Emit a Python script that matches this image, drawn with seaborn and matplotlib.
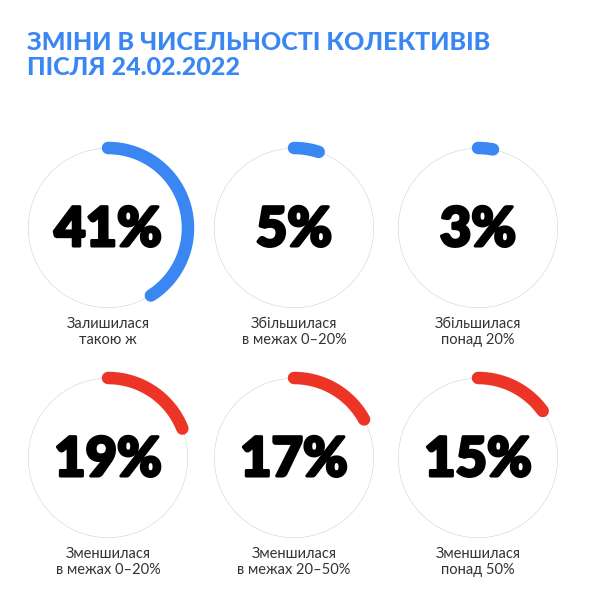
import numpy as np
import seaborn as sns
import matplotlib.pyplot as plt
import matplotlib.patheffects as pe

# ---- data ----
values = [41, 5, 3, 19, 17, 15]
labels = ["Залишилася\nтакою ж",
          "Збільшилася\nв межах 0–20%",
          "Збільшилася\nпонад 20%",
          "Зменшилася\nв межах 0–20%",
          "Зменшилася\nв межах 20–50%",
          "Зменшилася\nпонад 50%"]
groups = ["up", "up", "up", "down", "down", "down"]
title = "ЗМІНИ В ЧИСЕЛЬНОСТІ КОЛЕКТИВІВ\nПІСЛЯ 24.02.2022"

sns.set_theme(style="white")
plt.rcParams['font.family'] = ['Lato', 'DejaVu Sans']

palette = {"up": "#3a86f2", "down": "#ec3527"}

W, H = 600, 596
fig = plt.figure(figsize=(W / 100, H / 100), dpi=100)
fig.patch.set_facecolor("white")

# layout of the 3x2 grid (pixels)
col_x = [108, 294, 478]
row_y = [228, 458]
R = 80

fig.text(27 / W, 1 - 31 / H, title, ha="left", va="top", fontsize=18,
         fontweight="black", color="#3a86f2", linespacing=1.1)

ring = np.linspace(0, 2 * np.pi, 361)

for i, (v, lab, g) in enumerate(zip(values, labels, groups)):
    cx = col_x[i % 3]
    cy = row_y[i // 3]
    ax = fig.add_axes([(cx - R) / W, 1 - (cy + R) / H, 2 * R / W, 2 * R / H],
                      projection="polar")
    ax.set_theta_zero_location("N")
    ax.set_theta_direction(-1)

    # thin grey ring
    ax.plot(ring, np.ones_like(ring), color="#d2d2d2", lw=0.8)

    # coloured arc for the share
    arc = np.linspace(0, v / 100 * 2 * np.pi, 200)
    sns.lineplot(x=arc, y=np.ones_like(arc), ax=ax, color=palette[g],
                 linewidth=9, solid_capstyle="round", clip_on=False,
                 sort=False)
    ax.set_ylim(0, 1)
    ax.axis("off")

    # big number, thickened a bit
    fig.text(cx / W, 1 - (cy + 18) / H, f"{v}%", ha="center", va="baseline",
             fontsize=39, fontweight="black", color="black",
             path_effects=[pe.withStroke(linewidth=2.2, foreground="black")])
    # caption
    fig.text(cx / W, 1 - (cy + 104) / H, lab, ha="center", va="center",
             fontsize=10.5, fontweight="normal", color="#333333",
             linespacing=1.15)

plt.savefig("out.png", dpi=100)
